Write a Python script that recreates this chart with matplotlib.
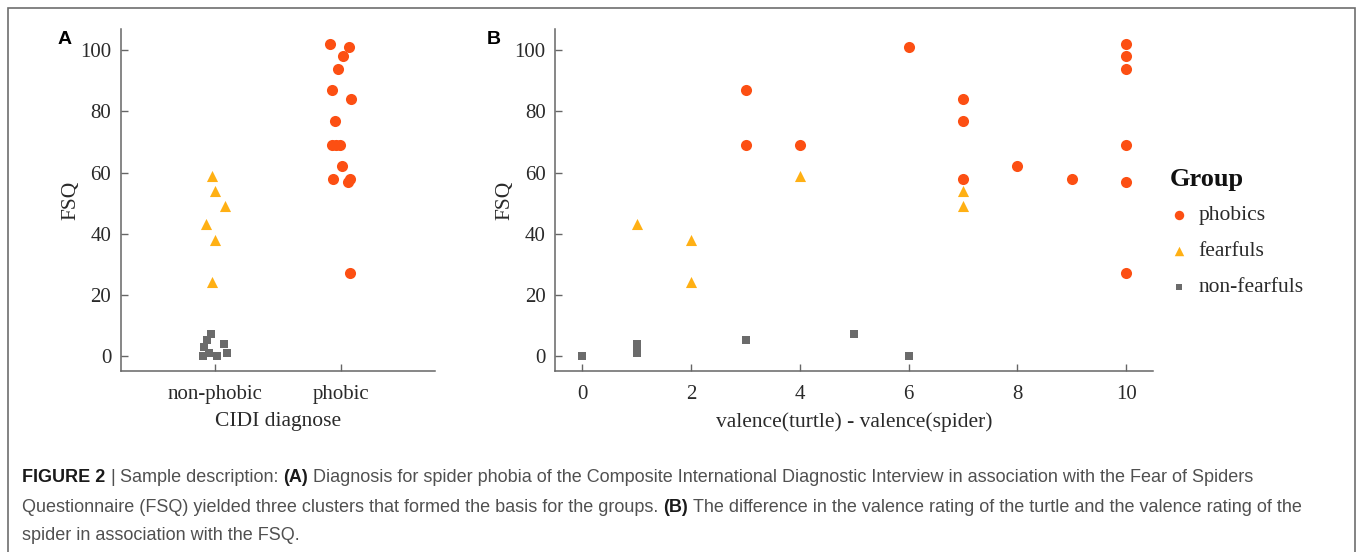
import matplotlib.pyplot as plt
from matplotlib.patches import Rectangle

# ---- data ----
# phobics: FSQ, valence difference (turtle - spider), jitter used in panel A
phobic_fsq = [102, 101, 98, 94, 87, 84, 77, 69, 69, 69, 62, 58, 58, 57, 27]
phobic_val = [10, 6, 10, 10, 3, 7, 7, 3, 4, 10, 8, 7, 9, 10, 10]
phobic_jit = [-0.085, 0.063, 0.016, -0.021, -0.071, 0.082, -0.048,
              -0.069, -0.037, -0.010, 0.008, -0.066, 0.077, 0.061, 0.071]

fearful_fsq = [59, 54, 49, 43, 38, 24]
fearful_val = [4, 7, 7, 1, 2, 2]
fearful_jit = [-0.026, 0.0, 0.082, -0.074, 0.0, -0.029]

nonfear_fsq = [7, 5, 3, 4, 1, 0, 0, 1]
nonfear_val = [5, 3, 1, 1, 1, 0, 6, 1]
nonfear_jit = [-0.032, -0.069, -0.087, 0.069, -0.050, -0.095, 0.018, 0.093]

cidi_labels = ["non-phobic", "phobic"]
group_labels = ["phobics", "fearfuls", "non-fearfuls"]

c_phobic = "#fc4f13"
c_fearful = "#ffb014"
c_nonfear = "#6b6b6b"

serif = "Liberation Serif"
txt_col = "#2a2a2a"
spine_col = "#666666"
W, H = 1357, 552

fig = plt.figure(figsize=(W / 100, H / 100), dpi=100)

# outer frame
fig.patches.append(Rectangle((8 / W, -0.05), 1347 / W, 1.05 - 8 / H,
                             transform=fig.transFigure, fill=False,
                             edgecolor="#6e6e6e", linewidth=1.2))

axA = fig.add_axes([121 / W, 1 - 371 / H, 314 / W, 342 / H])
axB = fig.add_axes([555.3 / W, 1 - 371 / H, 598 / W, 342 / H])


def style(ax):
    for s in ["top", "right"]:
        ax.spines[s].set_visible(False)
    for s in ["left", "bottom"]:
        ax.spines[s].set_color(spine_col)
        ax.spines[s].set_linewidth(1.1)
    ax.tick_params(direction="in", length=5, width=1, color=spine_col,
                   labelsize=15, labelcolor=txt_col)
    ax.tick_params(axis="x", pad=10)
    ax.tick_params(axis="y", pad=7)
    for lab in ax.get_xticklabels() + ax.get_yticklabels():
        lab.set_family(serif)
    ax.set_ylim(-5, 107)
    ax.set_yticks([0, 20, 40, 60, 80, 100])
    ax.set_ylabel("FSQ", family=serif, fontsize=15.5, color=txt_col, labelpad=0)


# panel A: jittered strip plot
xa_ph = [2 + j for j in phobic_jit]
xa_fe = [1 + j for j in fearful_jit]
xa_nf = [1 + j for j in nonfear_jit]
axA.scatter(xa_ph, phobic_fsq, marker="o", s=64, color=c_phobic, linewidths=0, zorder=3)
axA.scatter(xa_fe, fearful_fsq, marker="^", s=64, color=c_fearful, linewidths=0, zorder=3)
axA.scatter(xa_nf, nonfear_fsq, marker="s", s=28, color=c_nonfear, linewidths=0, zorder=3)
axA.set_xlim(0.25, 2.75)
axA.set_xticks([1, 2])
axA.set_xticklabels(cidi_labels)
axA.set_xlabel("CIDI diagnose", family=serif, fontsize=15.5, color=txt_col, labelpad=6)
style(axA)

# panel B: scatter against valence difference
h1 = axB.scatter(phobic_val, phobic_fsq, marker="o", s=64, color=c_phobic, linewidths=0, zorder=3)
h2 = axB.scatter(fearful_val, fearful_fsq, marker="^", s=64, color=c_fearful, linewidths=0, zorder=3)
h3 = axB.scatter(nonfear_val, nonfear_fsq, marker="s", s=28, color=c_nonfear, linewidths=0, zorder=3)
axB.set_xlim(-0.5, 10.5)
axB.set_xticks([0, 2, 4, 6, 8, 10])
axB.set_xlabel("valence(turtle) - valence(spider)", family=serif, fontsize=15.5,
               color=txt_col, labelpad=6)
style(axB)

# legend (title drawn separately so its gap can be set)
fig.text(1170 / W, 1 - 186 / H, "Group", family=serif, fontsize=19,
         fontweight="bold", color="#111111", va="baseline", ha="left")
leg = fig.legend([h1, h2, h3], group_labels, loc="upper left",
                 bbox_to_anchor=(1148 / W, 1 - 186 / H), frameon=False,
                 markerscale=0.85, handletextpad=0.35,
                 labelspacing=0.74, handlelength=1.1,
                 prop={"family": serif, "size": 15.5})
for t in leg.get_texts():
    t.set_color(txt_col)

fig.text(58 / W, 1 - 39 / H, "A", family="Liberation Sans", fontsize=14,
         fontweight="bold", va="center", ha="left")
fig.text(487 / W, 1 - 39 / H, "B", family="Liberation Sans", fontsize=14,
         fontweight="bold", va="center", ha="left")

# caption, pieces placed one after another so bold parts sit inline
cap_size = 13.0
cap_col = "#505050"
lines = [
    [("FIGURE 2", True), ("|", False), ("Sample description:", False), ("(A)", True),
     ("Diagnosis for spider phobia of the Composite International Diagnostic Interview "
      "in association with the Fear of Spiders", False)],
    [("Questionnaire (FSQ) yielded three clusters that formed the basis for the groups.", False),
     ("(B)", True),
     ("The difference in the valence rating of the turtle and the valence rating of the", False)],
    [("spider in association with the FSQ.", False)],
]
line_y = [482, 512, 540]
fig.canvas.draw()
rend = fig.canvas.get_renderer()
probe1 = fig.text(0, 0, "xx", family="Liberation Sans", fontsize=cap_size)
probe2 = fig.text(0, 0, "x x", family="Liberation Sans", fontsize=cap_size)
space_w = probe2.get_window_extent(rend).width - probe1.get_window_extent(rend).width
probe1.remove()
probe2.remove()
for parts, y in zip(lines, line_y):
    x = 22
    for txt, bold in parts:
        t = fig.text(x / W, 1 - y / H, txt, family="Liberation Sans", fontsize=cap_size,
                     fontweight="bold" if bold else "normal",
                     color="#1a1a1a" if bold else cap_col, va="baseline", ha="left")
        x += t.get_window_extent(rend).width + space_w

fig.savefig("out.png", dpi=100)
